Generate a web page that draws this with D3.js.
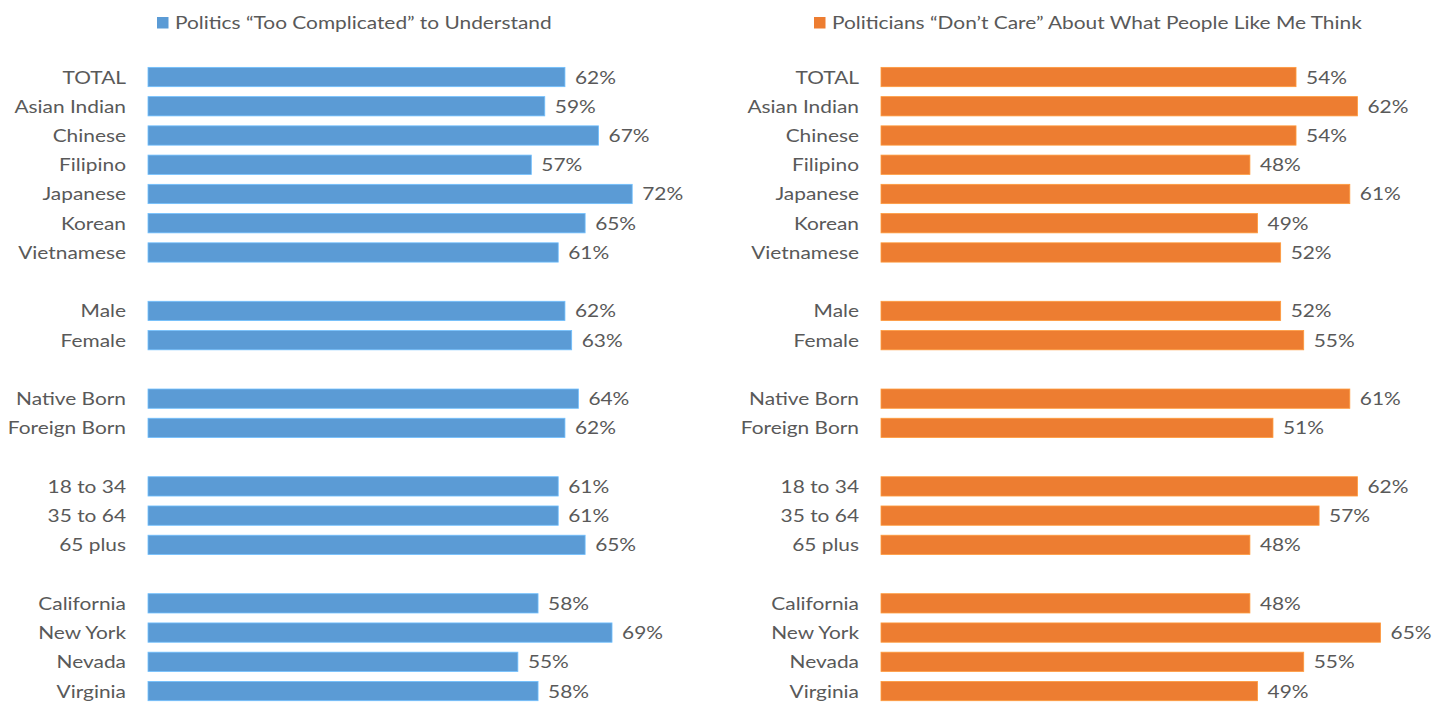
<!DOCTYPE html>
<html>
<head>
<meta charset="utf-8">
<title>Political efficacy by group</title>
<script src="https://cdn.jsdelivr.net/npm/d3@7"></script>
<style>
	html, body { margin: 0; padding: 0; background: #fff; }
	#viz-efficacy { display: block; }
	.label { font-family: Lato, "Open Sans", sans-serif; font-size: 18px; fill: #595959; }
</style>
</head>
<body>
<svg id="viz-efficacy" width="1445" height="702"></svg>
<script>

// Row labels, an empty string is a spacer row between groups.
var categories = [
	'TOTAL', 'Asian Indian', 'Chinese', 'Filipino', 'Japanese', 'Korean', 'Vietnamese',
	'',
	'Male', 'Female',
	'',
	'Native Born', 'Foreign Born',
	'',
	'18 to 34', '35 to 64', '65 plus',
	'',
	'California', 'New York', 'Nevada', 'Virginia'
];

// Percent answering yes, null on spacer rows.
var complicatedValues = [ 62, 59, 67, 57, 72, 65, 61, null, 62, 63, null, 64, 62, null, 61, 61, 65, null, 58, 69, 55, 58 ];
var dontCareValues = [ 54, 62, 54, 48, 61, 49, 52, null, 52, 55, null, 61, 51, null, 62, 57, 48, null, 48, 65, 55, 49 ];

var seriesNames = [ 'Politics \u201cToo Complicated\u201d to Understand', 'Politicians \u201cDon\u2019t Care\u201d About What People Like Me Think' ];
var seriesColors = [ '#5b9bd5', '#ed7d31' ];
var axisMax = [ 80, 70 ];


window.politicsViz = {

	/**
	 * @private
	 * Where each panel sits: label edge, bar start, legend start.
	 */
	_panels: [
		{ labelX: 126, barX: 148, legendX: 157 },
		{ labelX: 859, barX: 881, legendX: 814 }
	],

	_barSpan: 538,

	_rows: {
		top: 62.4,
		step: 29.24
	},

	// The original font runs wider than Lato, so text gets stretched a bit.
	_stretch: 1.16,


	/**
	 * @private _bindSvg
	 */
	_bindSvg: function () {
		this._svg = d3.select( '#viz-efficacy' );
	},


	/**
	 * @private
	 * @function _place
	 * Transform string for a stretched text sitting at x, y.
	 */
	_place: function ( x, y ) {
		return 'translate(' + x + ',' + y + ') scale(' + this._stretch + ',1)';
	},


	/**
	 * @private
	 * @function _createYScale
	 */
	_createYScale: function () {

		this._y = d3.scaleBand()
			.domain( d3.range( categories.length ) )
			.range( [ this._rows.top, this._rows.top + categories.length * this._rows.step ] )
			.paddingInner( 0.34 )
			.paddingOuter( 0.17 );

	},


	/**
	 * @private
	 * @function _drawPanel
	 */
	_drawPanel: function ( values, i ) {

		var panel = this._panels[i];
		var y = this._y;
		var mid = function ( r ) { return y( r ) + y.bandwidth() / 2; };

		var x = d3.scaleLinear()
			.domain( [ 0, axisMax[i] ] )
			.range( [ panel.barX, panel.barX + this._barSpan ] );

		var g = this._svg.append( 'g' ).classed( 'panel', true );

		// Legend on top.
		var legend = g.append( 'g' ).attr( 'transform', 'translate(' + panel.legendX + ',17)' );
		legend.append( 'rect' )
			.attr( 'width', 11.5 )
			.attr( 'height', 11.5 )
			.attr( 'fill', seriesColors[i] );
		legend.append( 'text' )
			.classed( 'label', true )
			.attr( 'transform', this._place( 18, 5.75 ) )
			.attr( 'dy', '0.36em' )
			.text( seriesNames[i] );

		var rows = d3.range( categories.length ).filter( function ( r ) {
			return values[r] !== null;
		} );

		g.selectAll( 'text.cat' )
			.data( rows )
			.enter()
			.append( 'text' )
			.classed( 'label cat', true )
			.attr( 'transform', function ( r ) { return this._place( panel.labelX, mid( r ) ); }.bind( this ) )
			.attr( 'dy', '0.36em' )
			.attr( 'text-anchor', 'end' )
			.text( function ( r ) { return categories[r]; } );

		g.selectAll( 'rect.bar' )
			.data( rows )
			.enter()
			.append( 'rect' )
			.classed( 'bar', true )
			.attr( 'x', x( 0 ) )
			.attr( 'y', function ( r ) { return y( r ); } )
			.attr( 'width', function ( r ) { return x( values[r] ) - x( 0 ); } )
			.attr( 'height', y.bandwidth() )
			.attr( 'fill', seriesColors[i] )
			.attr( 'stroke', d3.color( seriesColors[i] ).brighter( 0.6 ) )
			.attr( 'stroke-width', 0.8 );

		g.selectAll( 'text.value' )
			.data( rows )
			.enter()
			.append( 'text' )
			.classed( 'label value', true )
			.attr( 'transform', function ( r ) { return this._place( x( values[r] ) + 10, mid( r ) ); }.bind( this ) )
			.attr( 'dy', '0.36em' )
			.text( function ( r ) { return values[r] + '%'; } );

	},


	/**
	 * @public
	 * @function on
	 */
	on: function () {
		this._bindSvg();
		this._createYScale();
		this._drawPanel( complicatedValues, 0 );
		this._drawPanel( dontCareValues, 1 );
	}

};

window.politicsViz.on();
</script>
</body>
</html>
